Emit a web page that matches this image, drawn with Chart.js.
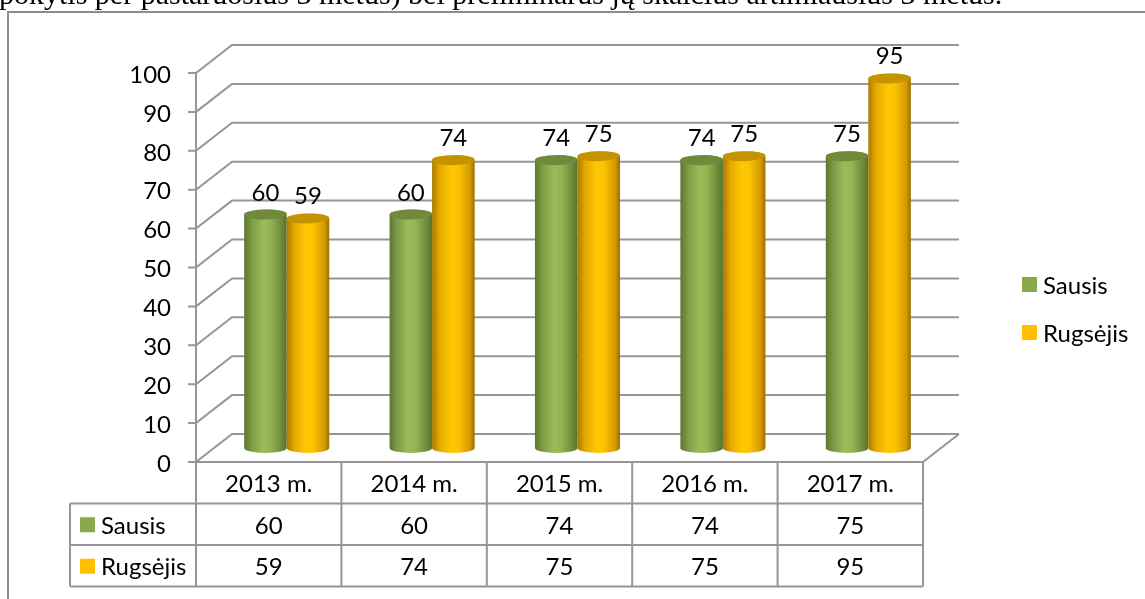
<!DOCTYPE html>
<html>
<head>
<meta charset="utf-8">
<script src="https://cdn.jsdelivr.net/npm/chart.js@4.4.1/dist/chart.umd.min.js"></script>
<style>
  html, body { margin: 0; padding: 0; background: #fff; overflow: hidden; }
  #wrap { position: relative; width: 1145px; height: 599px; }
</style>
</head>
<body>
<div id="wrap"><canvas id="myChart" width="1145" height="599"></canvas></div>
<script>
const categories = ['2013 m.', '2014 m.', '2015 m.', '2016 m.', '2017 m.'];
const sausis = [60, 60, 74, 74, 75];
const rugsejis = [59, 74, 75, 75, 95];
const seriesNames = ['Sausis', 'Rugsėjis'];
const yMin = 0, yMax = 100, yStep = 10;
const introText = 'pokytis per pastaruosius 3 metus) bei preliminarus jų skaičius artimiausius 3 metus.';

const FONT = '24px Lato';
const DEPTH_X = 36, DEPTH_Y = -28;
const swatch = ['#8aa84c', '#ffc000'];
const grad = [
  [[0, '#5c7630'], [0.18, '#7c9c45'], [0.45, '#9cbb5b'], [0.62, '#94b353'], [0.88, '#6e8a38'], [1, '#58702c']],
  [[0, '#a87a00'], [0.18, '#e6a900'], [0.45, '#ffc800'], [0.62, '#fcc300'], [0.88, '#d69c00'], [1, '#9c7000']]
];
const capColor = ['#6f8a3a', '#c49400'];

function cylinder(ctx, cx, top, base, w, i) {
  const r = w / 2, ry = 5;
  const g = ctx.createLinearGradient(cx - r, 0, cx + r, 0);
  grad[i].forEach(s => g.addColorStop(s[0], s[1]));
  ctx.beginPath();
  ctx.moveTo(cx - r, top);
  ctx.lineTo(cx - r, base);
  ctx.ellipse(cx, base, r, ry, 0, Math.PI, 0, true);
  ctx.lineTo(cx + r, top);
  ctx.ellipse(cx, top, r, ry, 0, 0, Math.PI, true);
  ctx.closePath();
  ctx.fillStyle = g;
  ctx.fill();
  ctx.beginPath();
  ctx.ellipse(cx, top, r, ry, -0.03, 0, Math.PI * 2);
  ctx.fillStyle = capColor[i];
  ctx.fill();
}

const excel3d = {
  id: 'excel3d',
  beforeDatasetsDraw(chart) {
    const ctx = chart.ctx;
    const a = chart.chartArea;
    const ys = chart.scales.y, xs = chart.scales.x;
    ctx.save();

    // paragraph text cut at the top
    ctx.fillStyle = '#000';
    ctx.font = '30px "Liberation Serif"';
    ctx.textBaseline = 'alphabetic';
    ctx.textAlign = 'left';
    ctx.fillText(introText, -1, 4);

    // outer frame
    ctx.strokeStyle = '#8c8c8c';
    ctx.lineWidth = 2;
    ctx.strokeRect(8, 12, 1160, 620);

    // walls and gridlines
    ctx.strokeStyle = '#969696';
    ctx.lineWidth = 2;
    ctx.beginPath();
    for (let v = yMin; v <= yMax; v += yStep) {
      const y = ys.getPixelForValue(v);
      ctx.moveTo(a.left - 8, y);
      ctx.lineTo(a.left, y);
      ctx.lineTo(a.left + DEPTH_X, y + DEPTH_Y);
      ctx.lineTo(a.right + DEPTH_X, y + DEPTH_Y);
    }
    ctx.moveTo(a.left, ys.getPixelForValue(yMax));
    ctx.lineTo(a.left, a.bottom);
    ctx.lineTo(a.right, a.bottom);
    ctx.lineTo(a.right + DEPTH_X, a.bottom + DEPTH_Y);
    ctx.stroke();

    // tick labels
    ctx.fillStyle = '#000';
    ctx.font = FONT;
    ctx.textAlign = 'right';
    ctx.textBaseline = 'middle';
    for (let v = yMin; v <= yMax; v += yStep) {
      ctx.fillText(String(v), a.left - 25, ys.getPixelForValue(v) + 2);
    }

    // data table
    const rowH = 41.5;
    const colW = (a.right - a.left) / categories.length;
    const tLeft = 70;
    ctx.beginPath();
    for (let i = 0; i <= categories.length; i++) {
      const x = a.left + i * colW;
      ctx.moveTo(x, a.bottom);
      ctx.lineTo(x, a.bottom + rowH * 3);
    }
    for (let r = 1; r <= 3; r++) {
      ctx.moveTo(tLeft, a.bottom + rowH * r);
      ctx.lineTo(a.right, a.bottom + rowH * r);
    }
    ctx.moveTo(tLeft, a.bottom + rowH);
    ctx.lineTo(tLeft, a.bottom + rowH * 3);
    ctx.stroke();

    ctx.textAlign = 'center';
    const rows = [sausis, rugsejis];
    categories.forEach((c, i) => {
      const cx = xs.getPixelForValue(i);
      ctx.fillText(c, cx, a.bottom + rowH * 0.5 + 2);
      rows.forEach((vals, r) => {
        ctx.fillText(String(vals[i]), cx, a.bottom + rowH * (r + 1.5) + 2);
      });
    });
    ctx.textAlign = 'left';
    seriesNames.forEach((n, r) => {
      const cy = a.bottom + rowH * (r + 1.5);
      ctx.fillStyle = swatch[r];
      ctx.fillRect(80, cy - 7, 15, 15);
      ctx.fillStyle = '#000';
      ctx.fillText(n, 101, cy + 2);
    });

    // legend on the right
    seriesNames.forEach((n, r) => {
      const cy = 285 + r * 48;
      ctx.fillStyle = swatch[r];
      ctx.fillRect(1022, cy - 8, 15, 15);
      ctx.fillStyle = '#000';
      ctx.fillText(n, 1043, cy + 1);
    });
    ctx.restore();
  },
  afterDatasetsDraw(chart) {
    const ctx = chart.ctx;
    ctx.save();
    const n = categories.length;
    for (let i = 0; i < n; i++) {
      chart.data.datasets.forEach((ds, d) => {
        const el = chart.getDatasetMeta(d).data[i];
        const cx = el.x + DEPTH_X / 2;
        const top = el.y + DEPTH_Y / 2;
        const base = el.base + DEPTH_Y / 2;
        cylinder(ctx, cx, top, base, el.width, d);
      });
    }
    ctx.fillStyle = '#000';
    ctx.font = FONT;
    ctx.textAlign = 'center';
    ctx.textBaseline = 'alphabetic';
    chart.data.datasets.forEach((ds, d) => {
      chart.getDatasetMeta(d).data.forEach((el, i) => {
        ctx.fillText(String(ds.data[i]), el.x + DEPTH_X / 2, el.y + DEPTH_Y / 2 - 14);
      });
    });
    ctx.restore();
  }
};

const ctx = document.getElementById('myChart');

new Chart(ctx, {
  type: 'bar',
  data: {
    labels: categories,
    datasets: [
      { label: seriesNames[0], data: sausis, backgroundColor: 'rgba(0,0,0,0)', borderWidth: 0 },
      { label: seriesNames[1], data: rugsejis, backgroundColor: 'rgba(0,0,0,0)', borderWidth: 0 }
    ]
  },
  options: {
    responsive: false,
    animation: false,
    devicePixelRatio: 1,
    layout: { padding: { left: 196, top: 73, right: 222, bottom: 137 } },
    datasets: { bar: { barPercentage: 1, categoryPercentage: 0.585 } },
    plugins: {
      legend: { display: false },
      tooltip: { enabled: false }
    },
    scales: {
      x: { display: false },
      y: { display: false, min: yMin, max: yMax, ticks: { stepSize: yStep } }
    }
  },
  plugins: [excel3d]
});
</script>
</body>
</html>
